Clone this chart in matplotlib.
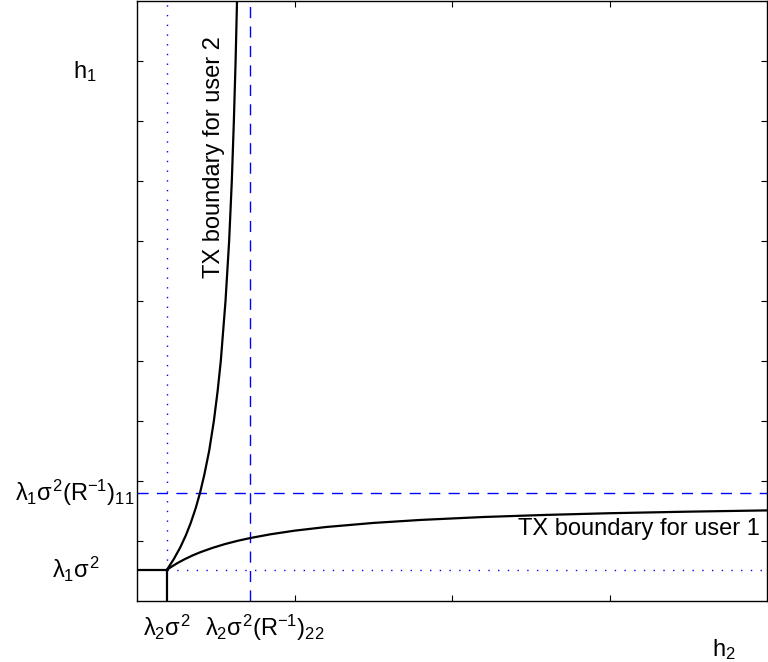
"""TX boundary regions for two users in the (h2, h1) plane."""
import matplotlib
matplotlib.use("Agg")
import matplotlib.pyplot as plt

plt.rcParams["font.family"] = ["Liberation Sans", "DejaVu Sans"]
plt.rcParams["mathtext.fontset"] = "custom"
plt.rcParams["mathtext.rm"] = "Liberation Sans"
plt.rcParams["mathtext.it"] = "Liberation Sans"
plt.rcParams["mathtext.bf"] = "Liberation Sans:bold"

# values (x = h2, y = h1)
corner_x = 0.19          # lambda2 sigma^2
corner_y = 0.52          # lambda1 sigma^2
dash_x = 0.72            # lambda2 sigma^2 (R^-1)_22
dash_y = 1.80            # lambda1 sigma^2 (R^-1)_11

user2_x = [0.190, 0.234, 0.276, 0.311, 0.341, 0.373, 0.400, 0.427, 0.458,
           0.488, 0.512, 0.532, 0.562, 0.585, 0.602, 0.615, 0.626, 0.635]
user2_y = [0.52, 0.70, 0.90, 1.10, 1.30, 1.55, 1.80, 2.10, 2.50,
           3.00, 3.50, 4.00, 5.00, 6.00, 7.00, 8.00, 9.00, 10.0]

user1_x = [0.19, 0.22, 0.26, 0.30, 0.35, 0.40, 0.48, 0.56, 0.64, 0.72,
           0.85, 1.00, 1.20, 1.50, 1.80, 2.20, 2.60, 3.00, 3.50, 4.00]
user1_y = [0.520, 0.573, 0.637, 0.693, 0.756, 0.811, 0.886, 0.950, 1.004, 1.050,
           1.113, 1.172, 1.233, 1.301, 1.351, 1.400, 1.435, 1.463, 1.489, 1.510]

fig = plt.figure(figsize=(7.68, 6.62), dpi=100)
ax = fig.add_axes([137 / 768, 61 / 662, 630 / 768, 600 / 662])

blue = "#0000FF"
# dotted guides through the corner point
ax.plot([corner_x, corner_x], [corner_y, 10], color=blue, lw=1.0, ls=(0, (1, 6)))
ax.plot([corner_x, 4], [corner_y, corner_y], color=blue, lw=1.0, ls=(0, (1, 6)))
# dashed guides
ax.plot([dash_x, dash_x], [0, 10], color=blue, lw=1.0, ls=(0, (8, 6)))
ax.plot([0, 4], [dash_y, dash_y], color=blue, lw=1.0, ls=(0, (8, 6)))

# box corner
ax.plot([0, corner_x], [corner_y, corner_y], color="black", lw=1.6)
ax.plot([corner_x, corner_x], [0, corner_y], color="black", lw=1.6)

# boundaries
ax.plot(user2_x, user2_y, color="black", lw=1.6)
ax.plot(user1_x, user1_y, color="black", lw=1.6)

ax.text(0.49, 7.4, "TX boundary for user 2", rotation=90, ha="center", va="center",
        fontsize=17)
ax.text(3.19, 1.2, "TX boundary for user 1", ha="center", va="center", fontsize=17)

ax.set_xlim(0, 4)
ax.set_ylim(0, 10)
ax.set_xticks([1, 2, 3])
ax.set_yticks(range(1, 10))
ax.set_xticklabels([])
ax.set_yticklabels([])
ax.tick_params(direction="in", length=4, width=0.8, top=True, right=True)
for sp in ax.spines.values():
    sp.set_linewidth(1.0)

# axis labels placed as MATLAB-style text
fig.text(85 / 768, 1 - 72 / 662, r"$\mathregular{h_1}$", fontsize=17, ha="center", va="center")
fig.text(724 / 768, 1 - 650 / 662, r"$\mathregular{h_2}$", fontsize=17, ha="center", va="center")
ax.text(-0.235, corner_y, r"$\lambda_1\sigma^2$", fontsize=17, ha="right", va="center")
ax.text(-0.013, dash_y, r"$\lambda_1\sigma^2(\mathregular{R}^{-1})_{11}$", fontsize=17,
        ha="right", va="center")
ax.text(corner_x, -0.2, r"$\lambda_2\sigma^2$", fontsize=17, ha="center", va="top")
ax.text(0.81, -0.2, r"$\lambda_2\sigma^2(\mathregular{R}^{-1})_{22}$", fontsize=17,
        ha="center", va="top")

fig.savefig("out.png", dpi=100)
